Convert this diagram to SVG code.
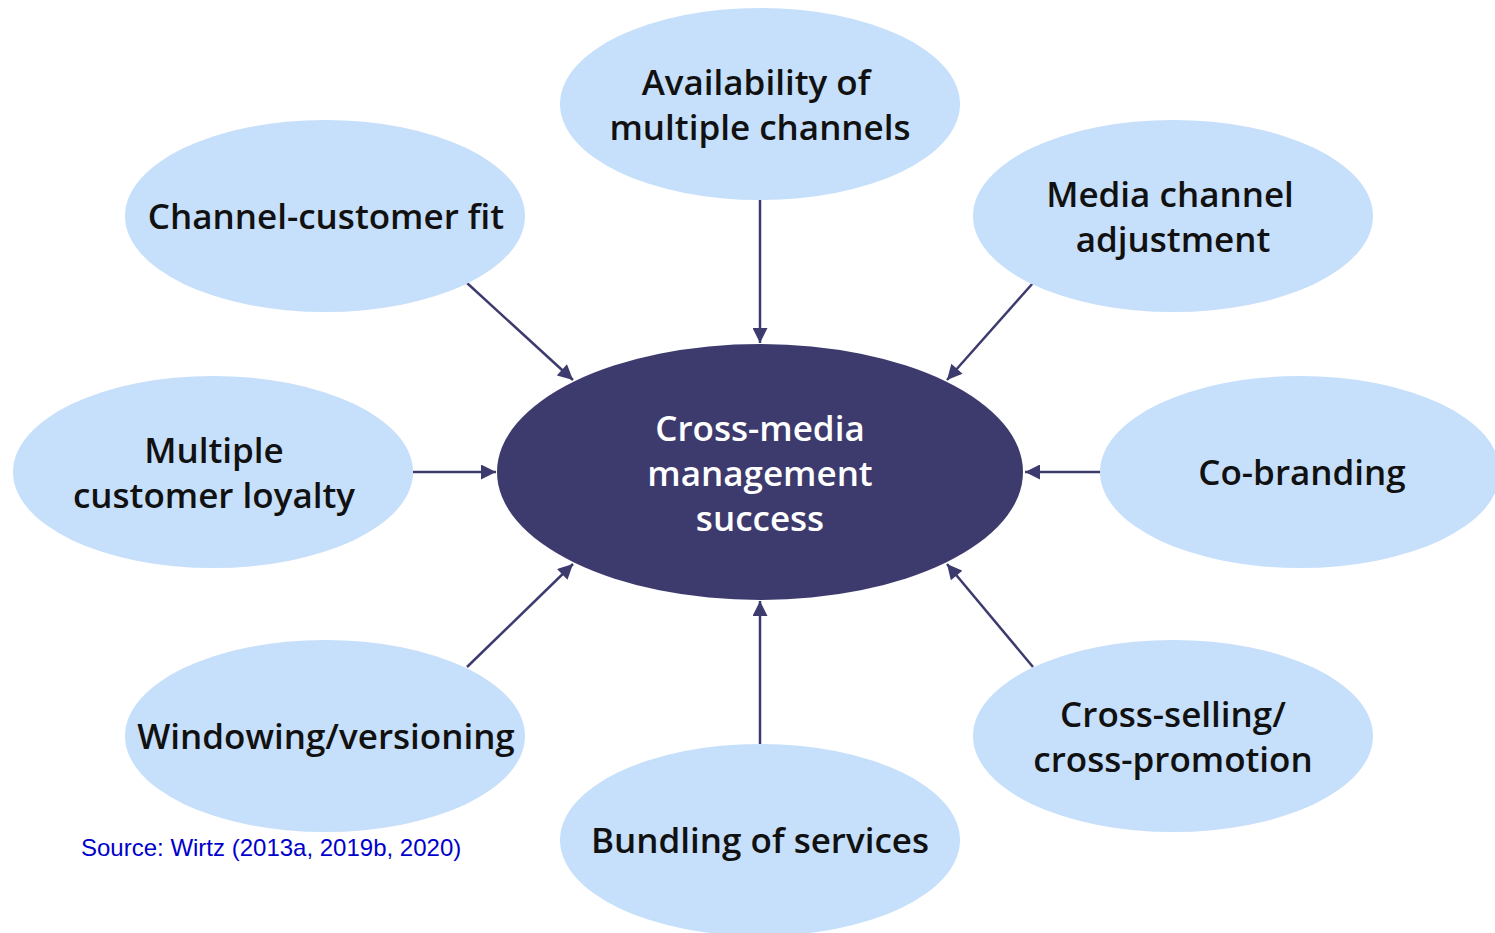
<svg xmlns="http://www.w3.org/2000/svg" width="1495" height="933" viewBox="0 0 1495 933">
<style>
.leaf{fill:#C6DFFB}
.core{fill:#3D3B6E}
.lt{font-family:"Open Sans","Noto Sans",sans-serif;font-weight:600;font-size:35px;fill:#111;text-anchor:middle}
.ct{font-family:"Open Sans","Noto Sans",sans-serif;font-weight:600;font-size:35px;fill:#fff;text-anchor:middle}
.cn{stroke:#3D3B6E;stroke-width:2.5;fill:none;marker-end:url(#ah)}
.src{font-family:"Liberation Sans",Arial,sans-serif;font-size:24px;fill:#0000CC}
</style>
<defs>
<marker id="ah" viewBox="0 0 10 10" refX="10" refY="5" markerWidth="6.5" markerHeight="6" orient="auto" markerUnits="strokeWidth">
<path d="M0,0 L10,5 L0,10 z" fill="#3D3B6E"/>
</marker>
</defs>
<rect width="1495" height="933" fill="#fff"/>
<g id="connectors">
<line class="cn" x1="760" y1="200" x2="760" y2="343"/>
<line class="cn" x1="467" y1="283" x2="573" y2="380"/>
<line class="cn" x1="1033" y1="283" x2="947" y2="380"/>
<line class="cn" x1="413" y1="472" x2="496" y2="472"/>
<line class="cn" x1="1100" y1="472" x2="1025" y2="472"/>
<line class="cn" x1="467" y1="667" x2="573" y2="564"/>
<line class="cn" x1="1033" y1="667" x2="947" y2="564"/>
<line class="cn" x1="760" y1="744" x2="760" y2="601"/>
</g>
<g id="center">
<ellipse class="core" cx="760" cy="472" rx="263" ry="128"/>
<text class="ct" x="760" y="441">Cross-media</text>
<text class="ct" x="760" y="486">management</text>
<text class="ct" x="760" y="531">success</text>
</g>
<g id="availability">
<ellipse class="leaf" cx="760" cy="104" rx="200" ry="96"/>
<text class="lt" x="756" y="95">Availability of</text>
<text class="lt" x="760" y="140">multiple channels</text>
</g>
<g id="channel-fit">
<ellipse class="leaf" cx="325" cy="216" rx="200" ry="96"/>
<text class="lt" x="326" y="229">Channel-customer fit</text>
</g>
<g id="media-adjust">
<ellipse class="leaf" cx="1173" cy="216" rx="200" ry="96"/>
<text class="lt" x="1170" y="207">Media channel</text>
<text class="lt" x="1173" y="252">adjustment</text>
</g>
<g id="loyalty">
<ellipse class="leaf" cx="213" cy="472" rx="200" ry="96"/>
<text class="lt" x="214" y="463">Multiple</text>
<text class="lt" x="214" y="508">customer loyalty</text>
</g>
<g id="cobranding">
<ellipse class="leaf" cx="1300" cy="472" rx="200" ry="96"/>
<text class="lt" x="1302" y="485">Co-branding</text>
</g>
<g id="windowing">
<ellipse class="leaf" cx="325" cy="736" rx="200" ry="96"/>
<text class="lt" x="326" y="749">Windowing/versioning</text>
</g>
<g id="cross-selling">
<ellipse class="leaf" cx="1173" cy="736" rx="200" ry="96"/>
<text class="lt" x="1173" y="727">Cross-selling/</text>
<text class="lt" x="1173" y="772">cross-promotion</text>
</g>
<g id="bundling">
<ellipse class="leaf" cx="760" cy="840" rx="200" ry="96"/>
<text class="lt" x="760" y="853">Bundling of services</text>
</g>
<text class="src" x="81" y="856">Source: Wirtz (2013a, 2019b, 2020)</text>
</svg>
